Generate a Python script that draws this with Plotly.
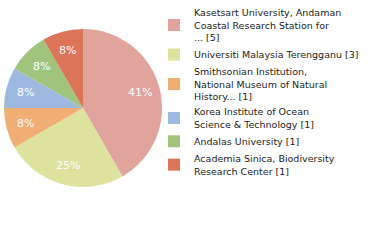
import math
import plotly.graph_objects as go

labels = [
    "Kasetsart University, Andaman<br>Coastal Research Station for<br>... [5]",
    "Universiti Malaysia Terengganu [3]",
    "Smithsonian Institution,<br>National Museum of Natural<br>History... [1]",
    "Korea Institute of Ocean<br>Science & Technology [1]",
    "Andalas University [1]",
    "Academia Sinica, Biodiversity<br>Research Center [1]",
]
values = [5, 3, 1, 1, 1, 1]
colors = ["#e0a49c", "#dde29e", "#f0ae72", "#9eb9e0", "#a0c47b", "#dc7457"]

W, H = 380, 240
cx, cy, r = 83, 108, 79  # pie centre / radius in pixels (layout)

total = sum(values)
pct_text = [f"{math.floor(v * 100 / total)}%" for v in values]

fig = go.Figure(go.Pie(
    labels=labels,
    values=values,
    textinfo="none",
    marker=dict(colors=colors, line=dict(width=0)),
    sort=False,
    direction="clockwise",
    rotation=0,
    domain=dict(x=[(cx - r) / W, (cx + r) / W], y=[(H - cy - r) / H, (H - cy + r) / H]),
    hoverinfo="label+value",
))

# percentage labels placed at 3/4 of the radius on each slice's mid-angle
annotations = []
cum = 0
for v, t in zip(values, pct_text):
    mid = (cum + v / 2) / total * 2 * math.pi
    cum += v
    px = cx + 0.75 * r * math.sin(mid)
    py = (H - cy) + 0.75 * r * math.cos(mid)
    annotations.append(dict(
        x=px / W, y=py / H, xref="paper", yref="paper",
        text=t, showarrow=False,
        font=dict(family="DejaVu Sans", size=11, color="white"),
        xanchor="center", yanchor="middle",
    ))

fig.update_layout(
    width=W,
    height=H,
    margin=dict(l=0, r=0, t=0, b=0),
    paper_bgcolor="white",
    plot_bgcolor="white",
    showlegend=True,
    annotations=annotations,
    legend=dict(
        x=154 / W,
        y=1.0,
        xanchor="left",
        yanchor="top",
        font=dict(family="DejaVu Sans", size=9.5, color="#222222"),
        itemwidth=30,
        tracegroupgap=0,
        bgcolor="rgba(0,0,0,0)",
    ),
)

fig.write_html("out.html")
